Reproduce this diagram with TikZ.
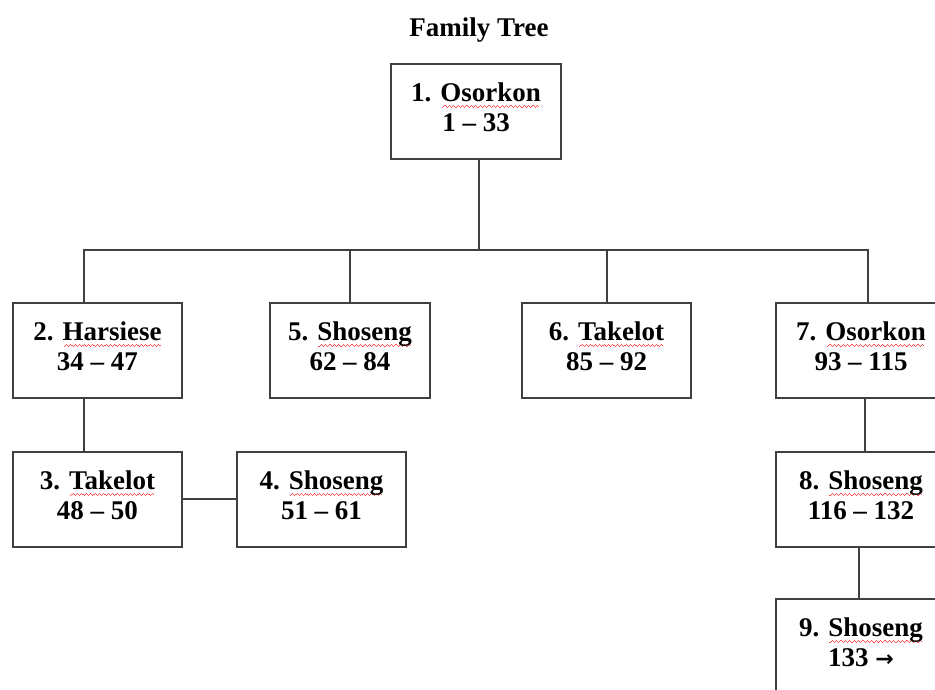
\documentclass[tikz,border=0pt]{standalone}
\usepackage{fontspec}
\setmainfont{Liberation Serif}
\newfontfamily\arrowfont{DejaVu Sans}
\usepackage{tikz}
\usetikzlibrary{positioning}
% spell-check wave under a name
\newcommand{\redwave}[1]{\setbox0\hbox{#1}\rlap{\color{red!70}\hbox to\wd0{\cleaders\hbox{\rule[-6pt]{1.1pt}{0.8pt}\rule[-5pt]{1.1pt}{0.8pt}\rule[-4pt]{1.1pt}{0.8pt}\rule[-5pt]{1.1pt}{0.8pt}}\hfil}}#1}

\begin{document}
\begin{tikzpicture}[x=1pt, y=-1pt,
    every node/.style={font=\fontsize{27}{30}\selectfont\bfseries},
    person/.style={draw=black!75, line width=2pt, minimum width=169pt, minimum height=95pt, align=center, text depth=8pt},
    link/.style={draw=black!75, line width=2pt}]
  \useasboundingbox (0,0) rectangle (935,689);
  \clip (0,0) rectangle (935,689);
  % Title
  \node (title) at (479,30) {Family Tree};
  % Persons
  \node[person, minimum width=170pt] (b1) at (476,111) {1. \redwave{Osorkon}\\1 -- 33};
  \node[person] (b2) at (97.5,350.5) {2. \redwave{Harsiese}\\34 -- 47};
  \node[person, minimum width=160pt] (b5) at (350,350.5) {5. \redwave{Shoseng}\\62 -- 84};
  \node[person] (b6) at (606.5,350.5) {6. \redwave{Takelot}\\85 -- 92};
  \node[person, minimum width=170pt] (b7) at (861,350.5) {7. \redwave{Osorkon}\\93 -- 115};
  \node[person] (b3) at (97.5,499) {3. \redwave{Takelot}\\48 -- 50};
  \node[person] (b4) at (321.5,499) {4. \redwave{Shoseng}\\51 -- 61};
  \node[person, minimum width=170pt] (b8) at (861,499) {8. \redwave{Shoseng}\\116 -- 132};
  \node[person, minimum width=170pt, minimum height=94pt] (b9) at (861,646) {9. \redwave{Shoseng}\\133 {\arrowfont\fontsize{22}{30}\selectfont →}};
  % Lines
  \coordinate (bus) at (479,250);
  \draw[link] (b1.south -| bus) -- (bus);
  \draw[link] ([xshift=-14pt]b2.north) |- ([xshift=7pt]b7.north |- bus) -- ([xshift=7pt]b7.north);
  \draw[link] (b5.north) -- (b5.north |- bus);
  \draw[link] (b6.north) -- (b6.north |- bus);
  \draw[link] ([xshift=-14pt]b2.south) -- ([xshift=-14pt]b3.north);
  \draw[link] (b3) -- (b4);
  \draw[link] ([xshift=4pt]b7.south) -- ([xshift=4pt]b8.north);
  \draw[link] ([xshift=-2pt]b8.south) -- ([xshift=-2pt]b9.north);
\end{tikzpicture}
\end{document}
